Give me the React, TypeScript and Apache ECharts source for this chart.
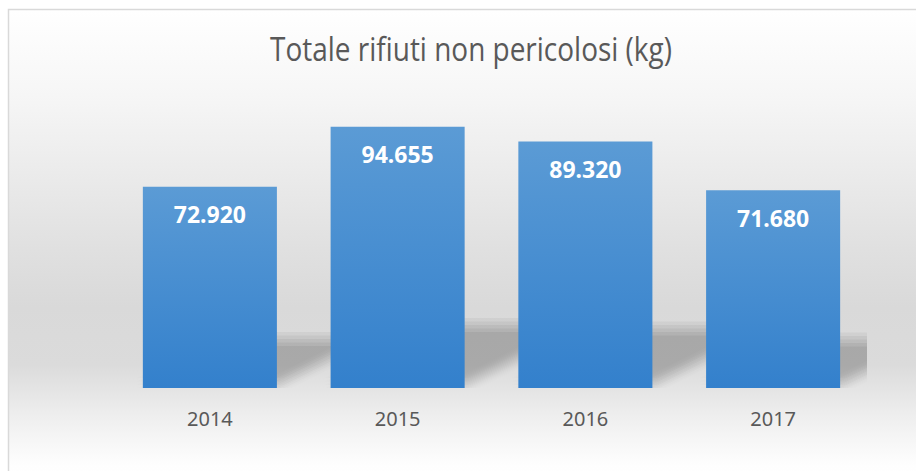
import React, { useEffect, useRef } from "react";
import * as echarts from "echarts";

const categories = ["2014", "2015", "2016", "2017"];
const values = [72920, 94655, 89320, 71680];
const titleText = "Totale rifiuti non pericolosi (kg)";

const fmt = (v: number) => String(v).replace(/\B(?=(\d{3})+(?!\d))/g, ".");

export default function App() {
  const ref = useRef<HTMLDivElement>(null);
  useEffect(() => {
    if (!ref.current) return;
    const chart = echarts.init(ref.current, null, { renderer: "svg" });
    const BAR_RATIO = 0.714;
    const offs: number[] = [-7, -3.5, 0, 3.5, 7];
    const layerAlpha = 1 - Math.pow(1 - 0.2, 1 / (offs.length * offs.length));
    chart.setOption({
      animation: false,
      backgroundColor: "#ffffff",
      graphic: [
        {
          type: "rect",
          z: -100,
          silent: true,
          shape: { x: 8.5, y: 9.5, width: 960, height: 480 },
          style: {
            stroke: "#d9d9d9",
            lineWidth: 1.5,
            fill: new echarts.graphic.LinearGradient(0, 0, 0, 1, [
              { offset: 0, color: "#ffffff" },
              { offset: 0.18, color: "#f6f6f6" },
              { offset: 0.5, color: "#e0e0e0" },
              { offset: 0.62, color: "#d9d9d9" },
              { offset: 0.74, color: "#dbdbdb" },
              { offset: 0.84, color: "#ededed" },
              { offset: 0.95, color: "#fefefe" },
              { offset: 1, color: "#ffffff" },
            ]),
          },
        },
        {
          type: "text",
          x: 471,
          y: 49,
          scaleX: 0.874,
          z: 10,
          style: {
            text: titleText,
            x: 0,
            y: 0,
            align: "center",
            verticalAlign: "middle",
            fontFamily: "Open Sans",
            fontSize: 32,
            fill: "#595959",
          },
        },
      ],
      grid: { left: 116, right: 49, top: 112, bottom: 83 },
      xAxis: {
        type: "category",
        data: categories,
        axisLine: { show: false },
        axisTick: { show: false },
        axisLabel: {
          color: "#595959",
          fontFamily: "Noto Sans",
          fontSize: 20,
          margin: 20,
        },
      },
      yAxis: {
        type: "value",
        min: 0,
        max: 100000,
        show: false,
        splitLine: { show: false },
      },
      series: [
        {
          type: "custom",
          z: 1,
          clip: true,
          silent: true,
          data: values.map((v, i) => [i, v]),
          encode: { x: 0, y: 1 },
          renderItem: (params: any, api: any) => {
            const idx = api.value(0);
            const v = api.value(1);
            const top = api.coord([idx, v]);
            const bot = api.coord([idx, 0]);
            const band = api.size([1, 0])[0];
            const bw = band * BAR_RATIO;
            const x0 = bot[0] - bw / 2;
            const x1 = bot[0] + bw / 2;
            const b = bot[1] - 3;
            const h = (bot[1] - top[1]) * 0.23;
            const dx = h * 2;
            const children: any[] = [];
            for (const ox of offs) {
              for (const oy of offs) {
                children.push({
                  type: "polygon",
                  shape: {
                    points: [
                      [x0 + ox, b + oy],
                      [x1 + ox, b + oy],
                      [x1 + dx + ox, b - h + oy],
                      [x0 + dx + ox, b - h + oy],
                    ],
                  },
                  style: { fill: `rgba(0,0,0,${layerAlpha.toFixed(4)})` },
                });
              }
            }
            return { type: "group", children };
          },
        },
        {
          type: "bar",
          z: 2,
          data: values,
          barWidth: "71.4%",
          itemStyle: {
            color: new echarts.graphic.LinearGradient(0, 0, 0, 1, [
              { offset: 0, color: "#5b9bd5" },
              { offset: 1, color: "#3380cc" },
            ]),
          },
          label: {
            show: true,
            position: "insideTop",
            distance: 16,
            color: "#ffffff",
            fontFamily: "Noto Sans",
            fontWeight: "bold",
            fontSize: 23,
            formatter: (p: any) => fmt(p.value),
          },
        },
      ],
    });
    return () => chart.dispose();
  }, []);
  return (
    <div
      ref={ref}
      style={{ position: "absolute", left: 0, top: 0, width: 916, height: 471 }}
    />
  );
}
